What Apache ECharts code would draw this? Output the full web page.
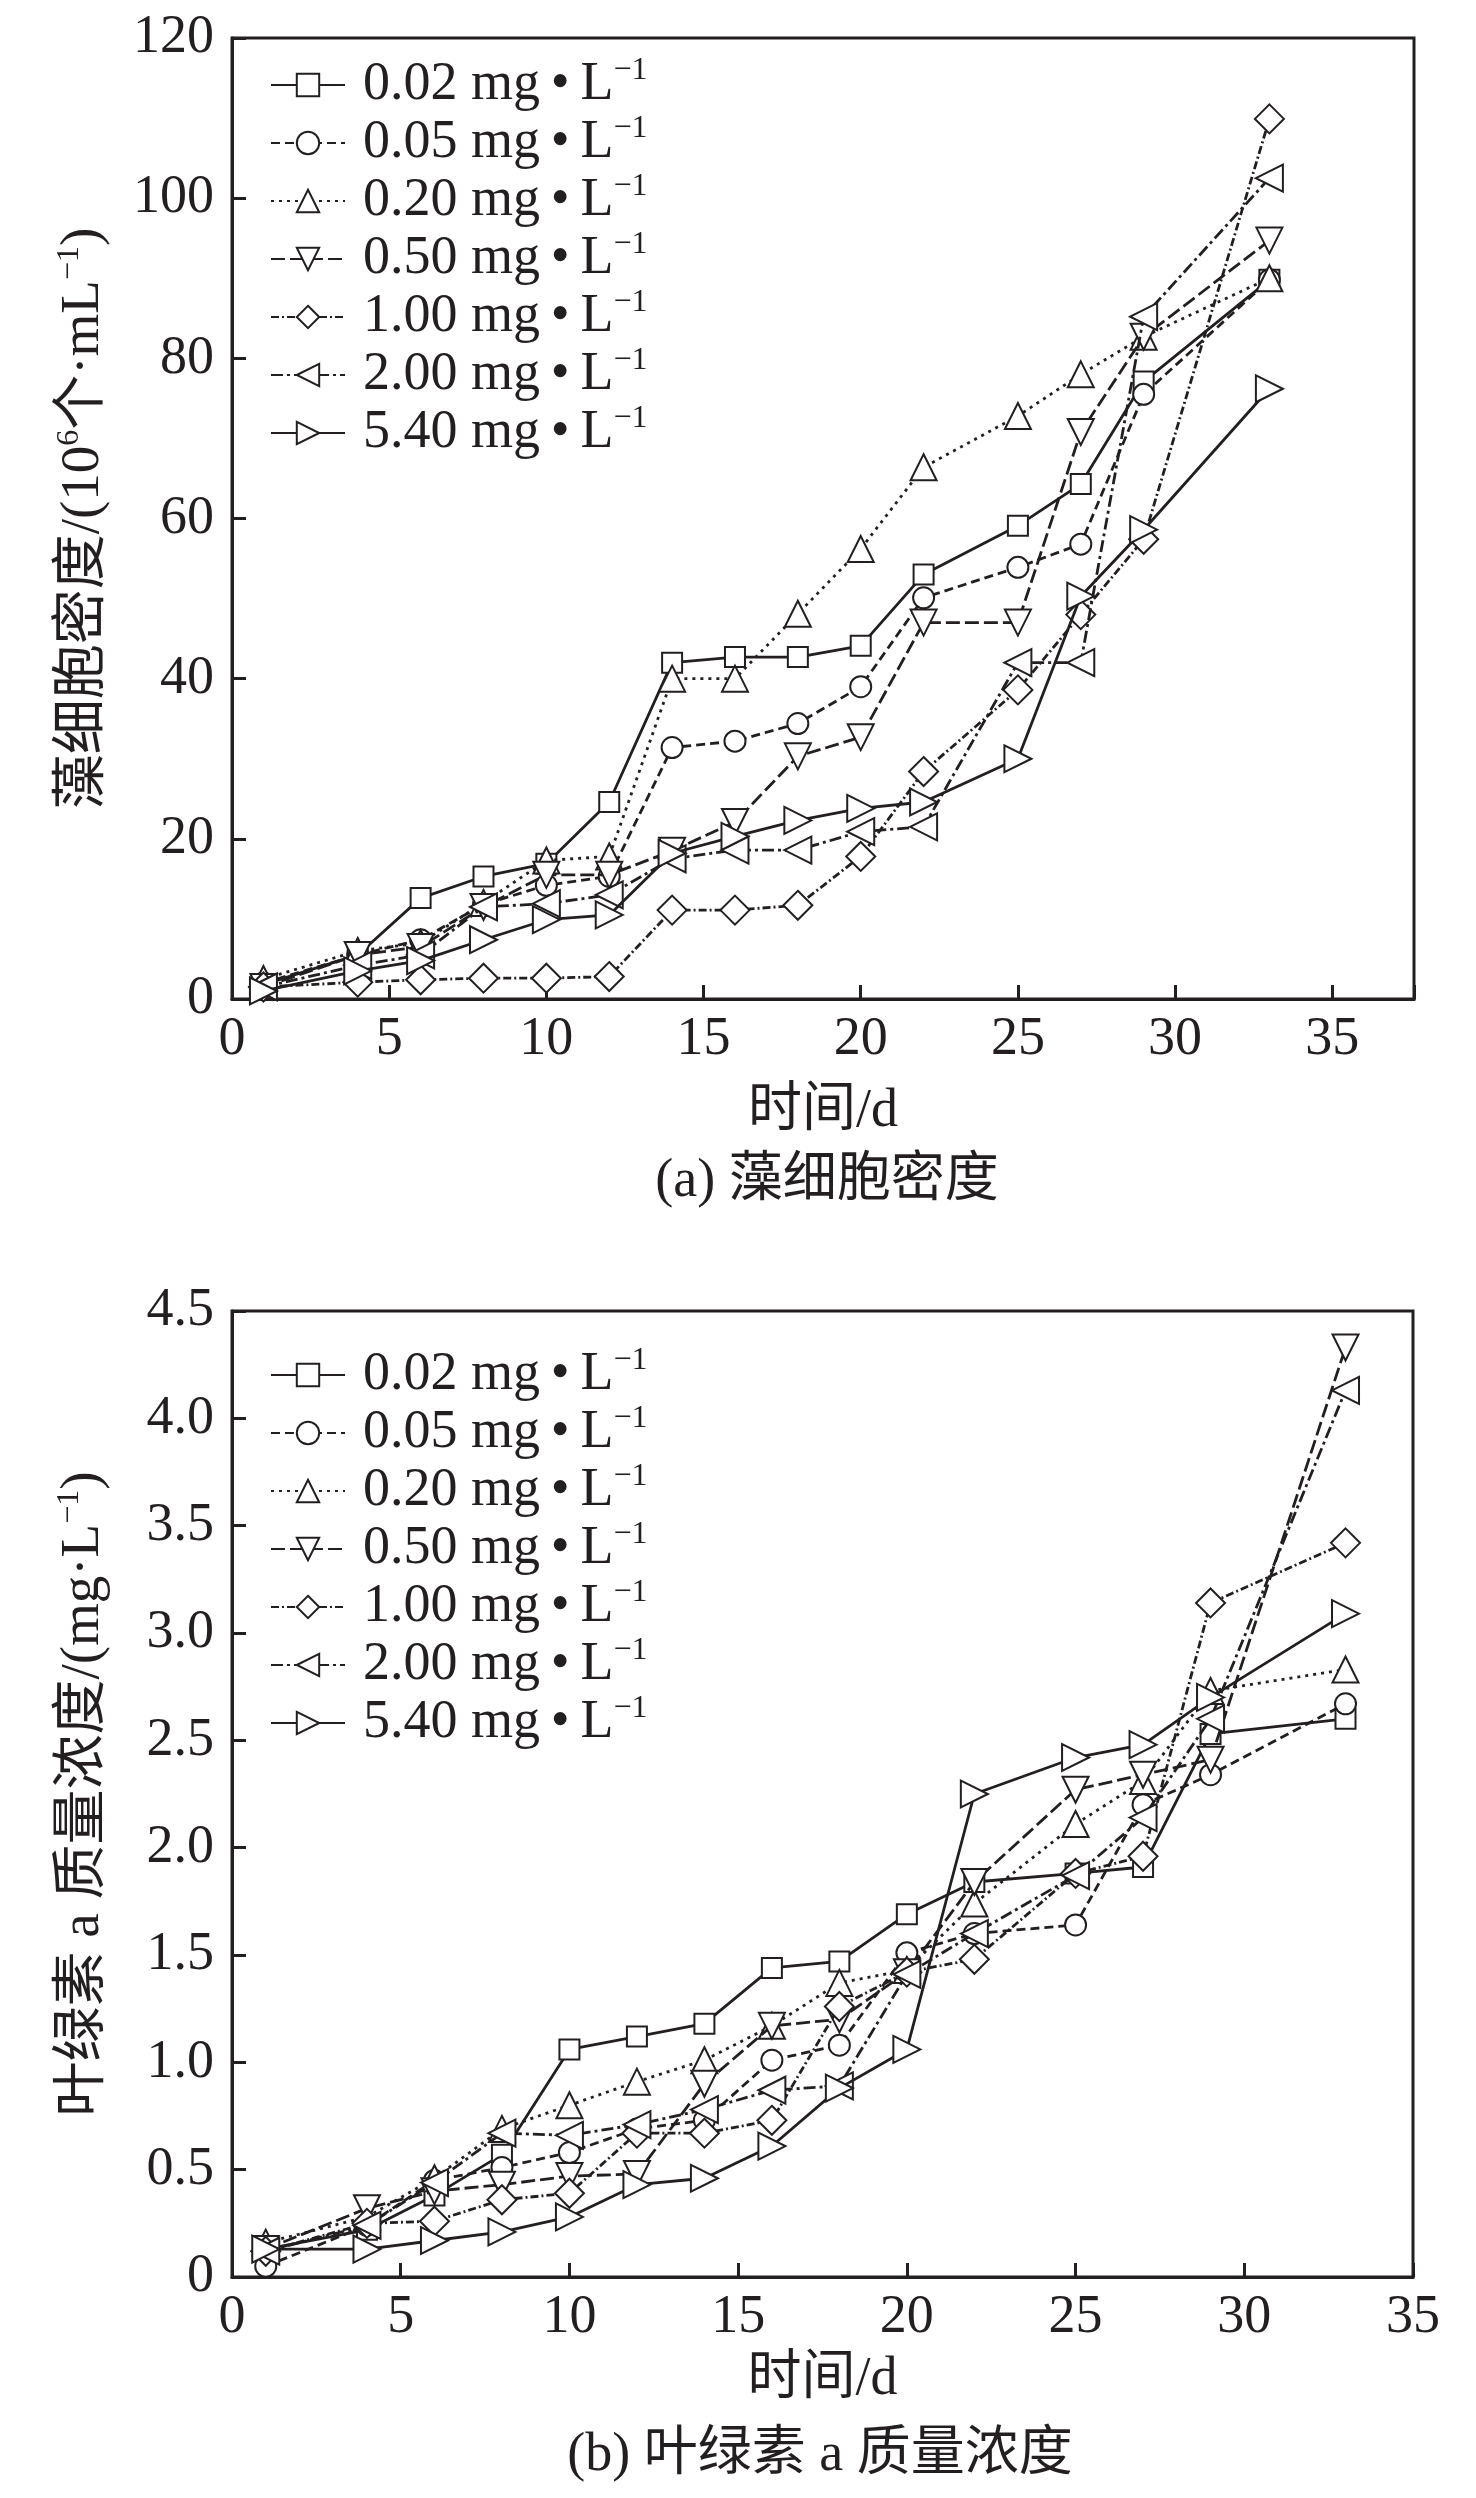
<!DOCTYPE html>
<html>
<head>
<meta charset="utf-8">
<title>藻细胞密度与叶绿素a</title>
<script src="https://cdn.jsdelivr.net/npm/echarts@6/dist/echarts.min.js"></script>
<style>
    body { margin: 0; background: #fff; }
    #chartA { width: 1476px; height: 1250px; }
    #chartB { width: 1476px; height: 1248px; }
</style>
</head>
<body>
<div id="chartA"></div>
<div id="chartB"></div>
<script>
//取样时间/d
var days = [1, 4, 6, 8, 10, 12, 14, 16, 18, 20, 22, 25, 27, 29, 33];
//浓度分组 mg·L-1
var groups = ['0.02', '0.05', '0.20', '0.50', '1.00', '2.00', '5.40'];

//(a) 藻细胞密度 /(10^6个·mL^-1)
var density002 = [1.8, 5.5, 12.6, 15.3, 16.9, 24.6, 42.0, 42.7, 42.7, 44.1, 53.0, 59.1, 64.3, 77.1, 89.8];
var density005 = [2.0, 5.5, 7.4, 11.8, 14.2, 15.3, 31.4, 32.2, 34.4, 39.0, 50.1, 53.9, 56.8, 75.5, 89.8];
var density020 = [2.5, 6.0, 7.0, 12.0, 17.3, 17.8, 40.0, 40.0, 48.1, 56.2, 66.4, 72.8, 78.0, 82.7, 90.0];
var density050 = [1.5, 5.5, 6.5, 11.5, 15.5, 15.5, 18.5, 22.1, 30.3, 32.7, 47.0, 47.0, 70.8, 82.7, 94.7];
var density100 = [1.5, 2.1, 2.4, 2.6, 2.6, 2.8, 11.1, 11.1, 11.7, 17.8, 28.4, 38.6, 48.0, 57.4, 109.9];
var density200 = [1.5, 4.2, 5.5, 11.5, 11.9, 13.0, 17.5, 18.6, 18.6, 20.9, 21.5, 42.0, 42.0, 85.2, 102.5];
var density540 = [1.0, 3.5, 4.8, 7.4, 9.9, 10.5, 18.2, 20.3, 22.3, 23.8, 24.6, 30.0, 50.3, 58.6, 76.2];

//(b) 叶绿素a质量浓度 /(mg·L^-1)
var chla002 = [0.13, 0.22, 0.38, 0.57, 1.06, 1.12, 1.18, 1.44, 1.47, 1.69, 1.84, 1.88, 1.91, 2.53, 2.60];
var chla005 = [0.05, 0.24, 0.45, 0.51, 0.58, 0.69, 0.73, 1.01, 1.08, 1.51, 1.60, 1.64, 2.20, 2.34, 2.67];
var chla020 = [0.16, 0.28, 0.46, 0.69, 0.80, 0.91, 1.01, 1.17, 1.37, 1.43, 1.74, 2.11, 2.31, 2.73, 2.83];
var chla050 = [0.13, 0.32, 0.40, 0.43, 0.47, 0.48, 0.90, 1.17, 1.20, 1.42, 1.84, 2.27, 2.34, 2.41, 4.33];
var chla100 = [0.12, 0.25, 0.26, 0.36, 0.39, 0.67, 0.67, 0.73, 1.26, 1.42, 1.48, 1.88, 1.96, 3.14, 3.42];
var chla200 = [0.12, 0.24, 0.44, 0.67, 0.66, 0.71, 0.78, 0.87, 0.89, 1.41, 1.60, 1.87, 2.14, 2.60, 4.13];
var chla540 = [0.13, 0.13, 0.17, 0.21, 0.28, 0.43, 0.46, 0.61, 0.88, 1.06, 2.25, 2.42, 2.48, 2.70, 3.09];

//刻度
var xTicks = [0, 5, 10, 15, 20, 25, 30, 35];
var yTicksA = [0, 20, 40, 60, 80, 100, 120];
var yTicksB = [0, 0.5, 1.0, 1.5, 2.0, 2.5, 3.0, 3.5, 4.0, 4.5];

var densityData = [density002, density005, density020, density050, density100, density200, density540];
var chlaData = [chla002, chla005, chla020, chla050, chla100, chla200, chla540];

var ink = '#231f20';
var serif = '"Liberation Serif", "Noto Sans CJK SC", serif';

//每条线的标记和线型
var lineLooks = [
    { symbol: 'emptyRect', size: 20, rotate: 0, dash: 'solid' },
    { symbol: 'emptyCircle', size: 21, rotate: 0, dash: [9, 5] },
    { symbol: 'emptyTriangle', size: 26, rotate: 0, dash: [3, 5] },
    { symbol: 'emptyTriangle', size: 26, rotate: 180, dash: [14, 5] },
    { symbol: 'emptyDiamond', size: 29, rotate: 0, dash: [8, 3, 2, 3] },
    { symbol: 'emptyTriangle', size: 27, rotate: 90, dash: [12, 4, 3, 4] },
    { symbol: 'emptyTriangle', size: 27, rotate: -90, dash: 'solid' }
];

var supRich = {
    n: { fontSize: 54, fontFamily: serif, color: ink, lineHeight: 60, padding: [0, 0, 0, 13] },
    a: { fontSize: 55, fontFamily: serif, color: ink, lineHeight: 60 },
    s: { fontSize: 32, fontFamily: serif, color: ink, lineHeight: 32, verticalAlign: 'top' }
};

var MyCharts = {
    //组装一张图的option
    Build: function (cfg) {
        var series = [];
        for (var i = 0; i < groups.length; i++) {
            var pts = [];
            for (var k = 0; k < days.length; k++) {
                pts.push([days[k], cfg.values[i][k]]);
            }
            series.push({
                name: groups[i],
                type: 'line',
                data: pts,
                symbol: lineLooks[i].symbol,
                symbolSize: lineLooks[i].size,
                symbolRotate: lineLooks[i].rotate,
                lineStyle: { color: ink, width: 2.8, type: lineLooks[i].dash },
                itemStyle: { color: ink, borderColor: ink, borderWidth: 3 },
                emphasis: { disabled: true },
                z: 3 + i
            });
        }
        var yt = cfg.yTicks;
        return {
            animation: false,
            backgroundColor: '#fff',
            grid: {
                left: 232, top: cfg.gridTop, width: cfg.gridWidth, height: cfg.gridHeight,
                show: true, borderColor: ink, borderWidth: 3
            },
            legend: {
                orient: 'vertical',
                left: 265,
                top: cfg.legendTop,
                itemWidth: 74,
                itemHeight: 28,
                itemGap: 1,
                selectedMode: false,
                data: groups,
                formatter: function (name) {
                    return '{n|' + name + ' mg\u2009\u2022\u2009L}{s|\u22121}';
                },
                textStyle: { rich: supRich }
            },
            xAxis: {
                type: 'value',
                min: xTicks[0],
                max: cfg.xMax,
                interval: xTicks[1] - xTicks[0],
                name: '时间/d',
                nameLocation: 'middle',
                nameGap: cfg.xNameGap,
                nameTextStyle: { fontSize: 54, fontFamily: serif, color: ink },
                axisLine: { show: true, onZero: false, lineStyle: { color: ink, width: 3 } },
                axisTick: { show: true, inside: true, length: 14, lineStyle: { color: ink, width: 3 } },
                axisLabel: {
                    margin: 14, fontSize: 54, fontFamily: serif, color: ink,
                    formatter: function (v) { return xTicks.indexOf(v) >= 0 ? String(v) : ''; }
                },
                splitLine: { show: false }
            },
            yAxis: {
                type: 'value',
                min: yt[0],
                max: yt[yt.length - 1],
                interval: yt[1] - yt[0],
                name: cfg.yName,
                nameLocation: 'middle',
                nameRotate: 90,
                nameGap: 118,
                nameTextStyle: { rich: supRich },
                axisLine: { show: true, lineStyle: { color: ink, width: 3 } },
                axisTick: { show: true, inside: true, length: 14, lineStyle: { color: ink, width: 3 } },
                axisLabel: {
                    margin: 18, fontSize: 54, fontFamily: serif, color: ink,
                    formatter: cfg.yFormat
                },
                splitLine: { show: false }
            },
            graphic: [{
                type: 'text',
                x: cfg.captionX,
                y: cfg.captionY,
                style: {
                    text: cfg.caption, fontSize: 54, fontFamily: serif, fill: ink,
                    align: 'center', verticalAlign: 'middle'
                }
            }],
            series: series
        };
    }
};

var chartA = echarts.init(document.getElementById('chartA'));
chartA.setOption(MyCharts.Build({
    values: densityData,
    yTicks: yTicksA,
    xMax: 37.6,
    gridTop: 38, gridWidth: 1182, gridHeight: 961,
    legendTop: 50,
    xNameGap: 86,
    yName: '{a|藻细胞密度/(10}{s|6}{a|个·mL}{s|\u22121}{a|)}',
    yFormat: function (v) { return String(v); },
    caption: '(a) 藻细胞密度',
    captionX: 827, captionY: 1182
}));

var chartB = echarts.init(document.getElementById('chartB'));
chartB.setOption(MyCharts.Build({
    values: chlaData,
    yTicks: yTicksB,
    xMax: xTicks[xTicks.length - 1],
    gridTop: 61, gridWidth: 1181, gridHeight: 966,
    legendTop: 90,
    xNameGap: 76,
    yName: '{a|叶绿素 a 质量浓度/(mg·L}{s|\u22121}{a|)}',
    yFormat: function (v) { return v === 0 ? '0' : v.toFixed(1); },
    caption: '(b) 叶绿素 a 质量浓度',
    captionX: 820, captionY: 1206
}));
</script>
</body>
</html>
